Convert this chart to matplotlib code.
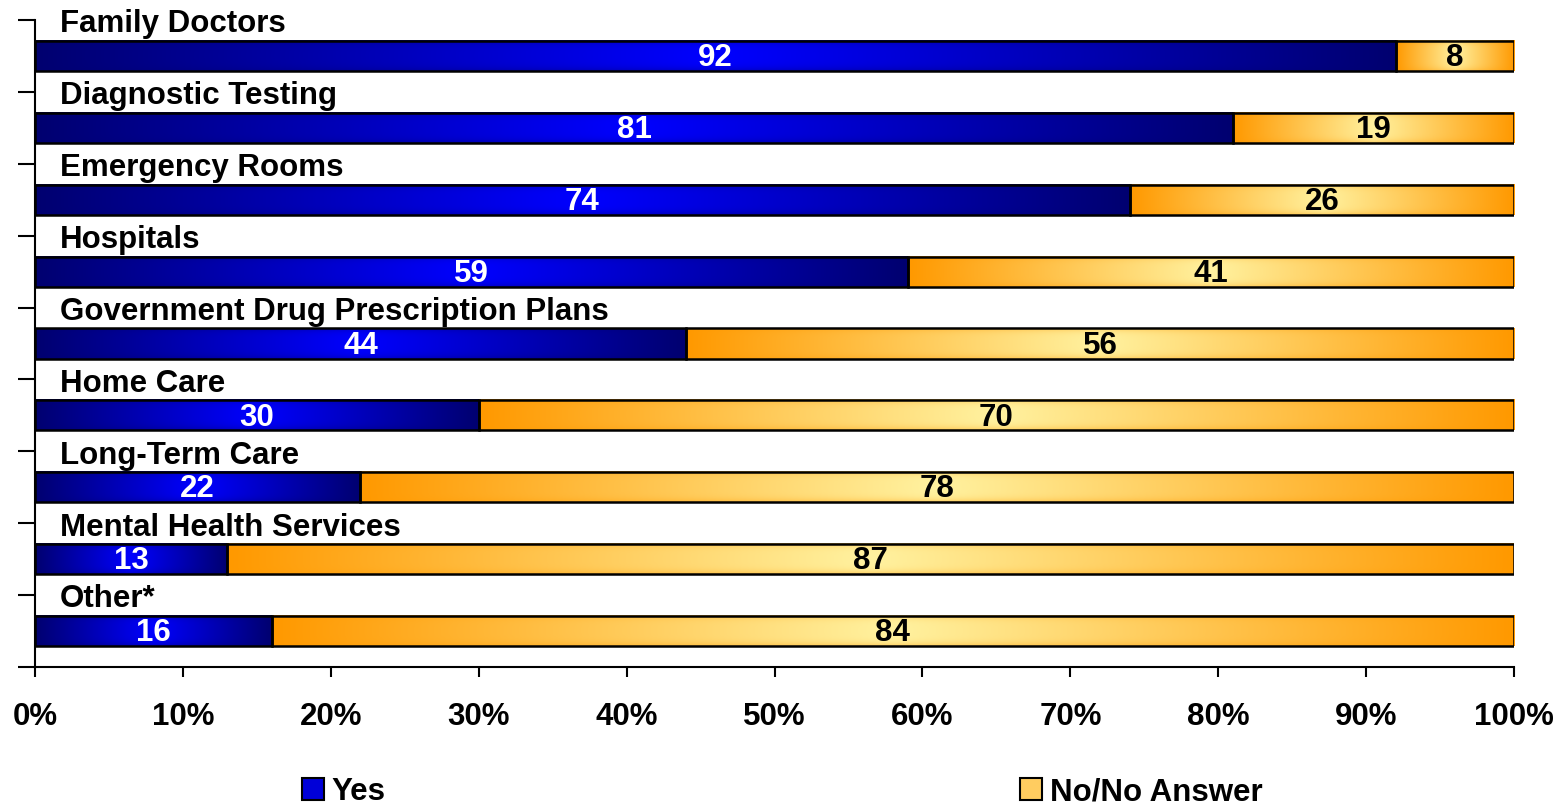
import numpy as np
import matplotlib.pyplot as plt
from matplotlib.patches import Patch

# Datos del gráfico
categorias = ['Family Doctors', 'Diagnostic Testing', 'Emergency Rooms', 'Hospitals',
              'Government Drug Prescription Plans', 'Home Care', 'Long-Term Care',
              'Mental Health Services', 'Other*']
si = [92, 81, 74, 59, 44, 30, 22, 13, 16]
no = [8, 19, 26, 41, 56, 70, 78, 87, 84]
series = ['Yes', 'No/No Answer']
ticks_x = [0, 10, 20, 30, 40, 50, 60, 70, 80, 90, 100]

plt.rcParams['font.family'] = ['Liberation Sans', 'DejaVu Sans']
plt.rcParams['font.weight'] = 'bold'

AZUL_BORDE = np.array([0, 0, 112]) / 255
AZUL_CENTRO = np.array([0, 0, 255]) / 255
NAR_BORDE = np.array([255, 153, 0]) / 255
NAR_CENTRO = np.array([255, 242, 160]) / 255


def gradiente(c_borde, c_centro, nx=200, ny=30):
    u = np.linspace(-1, 1, nx)[None, :]
    v = np.linspace(-1, 1, ny)[:, None]
    w = (1 - np.abs(u)) * (1 - 0.35 * v ** 4)
    return c_borde + w[..., None] * (c_centro - c_borde)


fig = plt.figure(figsize=(15.64, 8.09), dpi=100)
ax = fig.add_axes([0.0224, 0.1755, 0.9457, 0.7998])

alto = 0.42
fs = 22.5
img_si = gradiente(AZUL_BORDE, AZUL_CENTRO)
img_no = gradiente(NAR_BORDE, NAR_CENTRO)

for i, (cat, a, b) in enumerate(zip(categorias, si, no)):
    # segmento "Yes"
    ax.imshow(img_si, extent=(0, a, i + alto / 2, i - alto / 2), aspect='auto', zorder=2)
    # segmento "No/No Answer"
    ax.imshow(img_no, extent=(a, a + b, i + alto / 2, i - alto / 2), aspect='auto', zorder=2)
    ax.text(a / 2, i + 0.03, str(a), color='white', ha='center', va='center',
            fontsize=fs, fontweight='bold', zorder=4)
    ax.text(a + b / 2, i + 0.03, str(b), color='black', ha='center', va='center',
            fontsize=fs, fontweight='bold', zorder=4)
    ax.text(1.7, i - 0.44, cat, ha='left', va='center', fontsize=fs,
            fontweight='bold', zorder=4)

ax.barh(range(len(categorias)), si, height=alto, facecolor='none',
        edgecolor='black', linewidth=1.8, zorder=3)
ax.barh(range(len(categorias)), no, left=si, height=alto, facecolor='none',
        edgecolor='black', linewidth=1.8, zorder=3)

ax.set_xlim(0, 100)
ax.set_ylim(len(categorias) - 0.5, -0.5)

ax.set_xticks(ticks_x)
ax.set_xticklabels([f'{t}%' for t in ticks_x], fontsize=fs, fontweight='bold')
ax.set_yticks(np.arange(-0.5, len(categorias), 1))
ax.set_yticklabels([])
ax.tick_params(axis='x', length=7, width=1.5, pad=18)
ax.tick_params(axis='y', length=12, width=1.5)
for lado in ['top', 'right']:
    ax.spines[lado].set_visible(False)
for lado in ['left', 'bottom']:
    ax.spines[lado].set_linewidth(1.5)

handles = [Patch(facecolor='#0000D8', edgecolor='black', linewidth=1.5),
           Patch(facecolor='#FFCC60', edgecolor='black', linewidth=1.5)]
fig.legend(handles, series, ncol=2, loc='center', bbox_to_anchor=(0.5, 0.021),
           frameon=False, handlelength=0.7, handleheight=0.7,
           handletextpad=0.25, columnspacing=20.3, borderpad=0.1,
           prop={'weight': 'bold', 'size': fs})

fig.savefig('out.png', dpi=100)
